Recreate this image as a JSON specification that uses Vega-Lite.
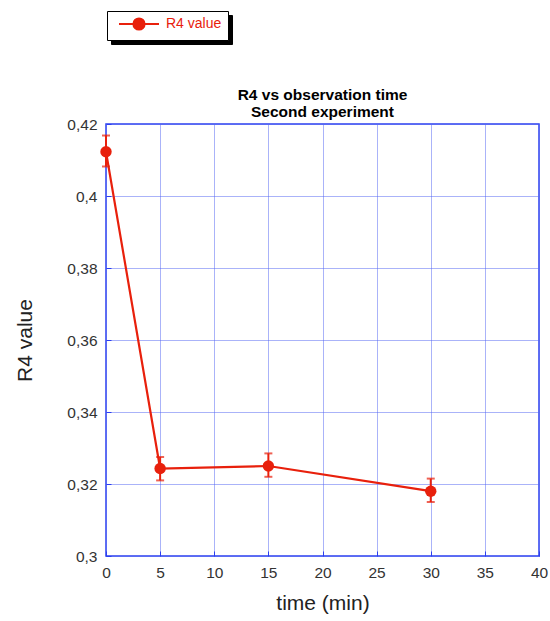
{
  "$schema": "https://vega.github.io/schema/vega-lite/v6.json",
  "width": 433,
  "height": 432,
  "autosize": {"type": "none"},
  "padding": {"left": 106, "top": 124, "right": 11, "bottom": 65},
  "background": "white",
  "title": {
    "text": ["R4 vs observation time", "Second experiment"],
    "fontSize": 15.5,
    "fontWeight": "bold",
    "font": "Liberation Sans",
    "color": "#000000",
    "anchor": "middle",
    "lineHeight": 17,
    "offset": -110
  },
  "data": {
    "values": [
      {"time": 0, "value": 0.4123, "lo": 0.4082, "hi": 0.4168, "series": "R4 value"},
      {"time": 5, "value": 0.3243, "lo": 0.321, "hi": 0.3275, "series": "R4 value"},
      {"time": 15, "value": 0.325, "lo": 0.322, "hi": 0.3285, "series": "R4 value"},
      {"time": 30, "value": 0.318, "lo": 0.315, "hi": 0.3215, "series": "R4 value"}
    ]
  },
  "encoding": {
    "x": {
      "field": "time",
      "type": "quantitative",
      "scale": {"domain": [0, 40], "nice": false, "zero": false},
      "axis": {
        "title": "time (min)",
        "values": [0, 5, 10, 15, 20, 25, 30, 35, 40],
        "labelFlush": false,
        "labelExpr": "replace(format(datum.value, ''), '.', ',')"
      }
    }
  },
  "layer": [
    {
      "mark": {"type": "line", "color": "#e8200c", "strokeWidth": 2.2},
      "encoding": {
        "y": {
          "field": "value",
          "type": "quantitative",
          "title": "R4 value",
          "scale": {"domain": [0.3, 0.42], "nice": false, "zero": false},
          "axis": {
            "title": "R4 value",
            "values": [0.3, 0.32, 0.34, 0.36, 0.38, 0.4, 0.42],
            "labelExpr": "replace(format(datum.value, ''), '.', ',')"
          }
        },
        "color": {
          "field": "series",
          "type": "nominal",
          "scale": {"range": ["#e8200c"]},
          "legend": {
            "orient": "none",
            "legendX": 1,
            "legendY": -113,
            "zindex": 2,
            "title": null,
            "strokeColor": "#000000",
            "fillColor": "#ffffff",
            "padding": 6,
            "symbolType": "M-4,0L4,0M-1.1,0A1.1,1.1 0 1,0 1.1,0A1.1,1.1 0 1,0 -1.1,0",
            "symbolSize": 100,
            "symbolOffset": 19,
            "symbolStrokeWidth": 2.2,
            "symbolFillColor": "#e8200c",
            "symbolStrokeColor": "#e8200c",
            "labelColor": "#e8200c",
            "labelFontSize": 14,
            "labelFont": "Liberation Sans",
            "labelOffset": 20
          }
        }
      }
    },
    {
      "mark": {"type": "errorbar", "color": "#e8200c", "thickness": 2, "ticks": {"size": 8, "thickness": 2, "color": "#e8200c"}},
      "encoding": {
        "y": {"field": "lo", "type": "quantitative", "title": "R4 value"},
        "y2": {"field": "hi"}
      }
    },
    {
      "mark": {"type": "point", "filled": true, "color": "#e8200c", "size": 130, "opacity": 1},
      "encoding": {
        "y": {"field": "value", "type": "quantitative", "title": "R4 value"},
        "shape": {
          "field": "series",
          "type": "nominal",
          "scale": {"domain": ["R4 value"], "range": ["circle"]},
          "legend": {
            "orient": "none",
            "legendX": 5,
            "legendY": -109,
            "zindex": 1,
            "title": null,
            "strokeColor": "#000000",
            "fillColor": "#000000",
            "padding": 6,
            "symbolSize": 100,
            "symbolOffset": 19,
            "symbolStrokeWidth": 2.2,
            "symbolFillColor": "#000000",
            "symbolStrokeColor": "#000000",
            "labelColor": "#000000",
            "labelFontSize": 14,
            "labelFont": "Liberation Sans",
            "labelOffset": 20
          }
        }
      }
    }
  ],
  "config": {
    "font": "Liberation Sans",
    "view": {"stroke": "#2b3ff0", "strokeWidth": 1.5},
    "axis": {
      "domain": false,
      "grid": true,
      "gridColor": "#5566f2",
      "gridDash": [1, 1],
      "gridWidth": 1,
      "ticks": true,
      "tickSize": -5,
      "tickColor": "#2b3ff0",
      "tickWidth": 1,
      "labelFontSize": 15.5,
      "labelColor": "#333333",
      "labelFont": "Liberation Sans",
      "titleFontSize": 21,
      "titleFontWeight": "normal",
      "titleColor": "#222222",
      "titleFont": "Liberation Sans"
    },
    "axisX": {"labelPadding": 14, "titlePadding": 12},
    "axisY": {"labelPadding": 14, "titlePadding": 31}
  }
}
